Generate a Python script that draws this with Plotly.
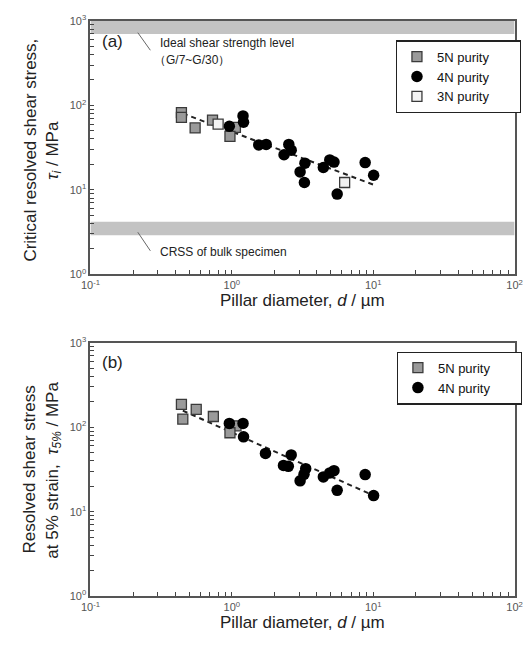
import plotly.graph_objects as go

# ---------------- data ----------------
# Panel (a): critical resolved shear stress
a_5n_d = [0.44, 0.44, 0.55, 0.73, 1.06, 0.97]
a_5n_tau = [82, 72, 54, 67, 55, 43]
a_4n_d = [1.20, 1.21, 0.96, 1.55, 1.75, 2.53, 2.63, 2.34, 3.29, 3.04, 3.26,
          4.44, 4.93, 5.28, 5.56, 8.77, 10.07]
a_4n_tau = [75, 63, 56.5, 34, 34.5, 34.5, 29.5, 26, 20.7, 16.3, 12.2,
            18.4, 22.6, 21.3, 8.9, 21, 14.9]
a_3n_d = [0.80, 6.28]
a_3n_tau = [60, 12.2]
a_fit_d = [0.45, 10.2]
a_fit_tau = [80, 11.4]
ideal_band = [700, 1000]
bulk_band = [2.9, 4.2]

# Panel (b): resolved shear stress at 5% strain
b_5n_d = [0.44, 0.45, 0.56, 0.74, 1.07, 0.97]
b_5n_tau = [186, 125, 163, 134, 104, 86]
b_4n_d = [0.96, 1.20, 1.21, 1.73, 2.63, 2.32, 2.51, 3.33, 3.24, 3.04,
          4.44, 4.93, 5.28, 5.56, 8.77, 10.07]
b_4n_tau = [111, 111, 77, 49, 47, 35.3, 34.4, 32.3, 27.7, 23.2,
            25.8, 28.8, 30.6, 17.9, 27.5, 15.5]
b_fit_d = [0.45, 10.2]
b_fit_tau = [157, 15.4]

x_range = [0.1, 100]
x_decade_vals = [0.1, 1, 10, 100]
x_decade_labels = ["10<sup>-1</sup>", "10<sup>0</sup>", "10<sup>1</sup>", "10<sup>2</sup>"]
y_decade_vals = [1, 10, 100, 1000]
y_decade_labels = ["10<sup>0</sup>", "10<sup>1</sup>", "10<sup>2</sup>", "10<sup>3</sup>"]

W, H = 531, 646
OFF = 8  # page body margin of the browser
FONT = "Arial, Liberation Sans, sans-serif"
PAD = "\u00a0" * 7


def px(x):
    return (x - OFF) / W


def py(y):
    return 1 - (y - OFF) / H


def minor_vals(decade_vals):
    out = []
    for d in decade_vals[:-1]:
        out.extend(m * d for m in range(2, 10))
    return out


x_minor = minor_vals(x_decade_vals)
y_minor = minor_vals(y_decade_vals)

sq5 = dict(symbol="square", size=10, color="#9a9a9a", line=dict(color="#3a3a3a", width=1.3))
sq3 = dict(symbol="square", size=10, color="#f2f2f2", line=dict(color="#3a3a3a", width=1.3))
circ = dict(symbol="circle", size=11.5, color="black", line=dict(color="black", width=0))
DASH = dict(color="#222", width=2, dash="5px,4px")

fig = go.Figure()

# bands in panel (a)
for band in (ideal_band, bulk_band):
    fig.add_trace(go.Scatter(
        x=[x_range[0], x_range[1], x_range[1], x_range[0], x_range[0]],
        y=[band[0], band[0], band[1], band[1], band[0]],
        fill="toself", fillcolor="#c3c3c3", mode="none",
        showlegend=False, hoverinfo="skip", xaxis="x", yaxis="y"))

fig.add_trace(go.Scatter(x=a_fit_d, y=a_fit_tau, mode="lines", line=DASH,
                         showlegend=False, xaxis="x", yaxis="y"))
fig.add_trace(go.Scatter(x=a_5n_d, y=a_5n_tau, mode="markers", marker=sq5,
                         name="5N purity" + PAD, legend="legend", xaxis="x", yaxis="y"))
fig.add_trace(go.Scatter(x=a_4n_d, y=a_4n_tau, mode="markers", marker=circ,
                         name="4N purity" + PAD, legend="legend", xaxis="x", yaxis="y"))
fig.add_trace(go.Scatter(x=a_3n_d, y=a_3n_tau, mode="markers", marker=sq3,
                         name="3N purity" + PAD, legend="legend", xaxis="x", yaxis="y"))

fig.add_trace(go.Scatter(x=b_fit_d, y=b_fit_tau, mode="lines", line=DASH,
                         showlegend=False, xaxis="x2", yaxis="y2"))
fig.add_trace(go.Scatter(x=b_5n_d, y=b_5n_tau, mode="markers", marker=sq5,
                         name="5N purity" + PAD, legend="legend2", xaxis="x2", yaxis="y2"))
fig.add_trace(go.Scatter(x=b_4n_d, y=b_4n_tau, mode="markers", marker=circ,
                         name="4N purity" + PAD, legend="legend2", xaxis="x2", yaxis="y2"))

axis_common = dict(type="log", showgrid=False, zeroline=False,
                   showline=True, linecolor="#555", linewidth=2, mirror=True,
                   ticks="inside", ticklen=4, tickwidth=1, tickcolor="#444",
                   tickfont=dict(family=FONT, size=11, color="#555"))


def xaxis_cfg(anchor):
    return dict(domain=[px(83), px(522)], range=[-1, 2], anchor=anchor,
                tickmode="array", tickvals=x_decade_vals, ticktext=x_decade_labels,
                minor=dict(tickmode="array", tickvals=x_minor, ticks="inside",
                           ticklen=4, tickwidth=1, tickcolor="#444", showgrid=False),
                **axis_common)


def yaxis_cfg(anchor, top, bottom):
    return dict(domain=[py(bottom), py(top)], range=[0, 3], anchor=anchor,
                tickmode="array", tickvals=y_decade_vals, ticktext=y_decade_labels,
                minor=dict(tickmode="array", tickvals=y_minor, ticks="inside",
                           ticklen=4, tickwidth=1, tickcolor="#444", showgrid=False),
                **axis_common)


legend_common = dict(xanchor="left", yanchor="top",
                     bordercolor="#222", borderwidth=1.2, bgcolor="white",
                     font=dict(family=FONT, size=13, color="#111"),
                     itemwidth=30, tracegroupgap=0)
fig.update_layout(
    width=W, height=H, margin=dict(l=0, r=0, t=0, b=0),
    paper_bgcolor="white", plot_bgcolor="white",
    font=dict(family=FONT, color="#222"),
    xaxis=xaxis_cfg("y"),
    yaxis=yaxis_cfg("x", 13, 272),
    xaxis2=xaxis_cfg("y2"),
    yaxis2=yaxis_cfg("x2", 342, 601),
    legend=dict(x=px(399), y=py(33), **legend_common),
    legend2=dict(x=px(400), y=py(351), **legend_common),
    showlegend=True,
)

# leader lines for band annotations
for (x0, y0, x1, y1) in [(132, 25, 145, 43), (132, 229, 145, 248)]:
    fig.add_shape(type="line", xref="paper", yref="paper",
                  x0=px(x0), y0=py(y0), x1=px(x1), y1=py(y1),
                  line=dict(color="#666", width=1))

anns = [
    dict(text="Ideal shear strength level", x=px(153), y=py(36), size=12, xanchor="left"),
    dict(text="（G/7~G/30）", x=px(147), y=py(53), size=12, xanchor="left"),
    dict(text="CRSS of bulk specimen", x=px(153), y=py(249), size=12, xanchor="left"),
    dict(text="(a)", x=px(93), y=py(34), size=17, xanchor="left"),
    dict(text="(b)", x=px(93), y=py(362), size=17, xanchor="left"),
    dict(text="Pillar diameter, <i>d</i> / µm", x=px(302), y=py(299), size=17, xanchor="center"),
    dict(text="Pillar diameter, <i>d</i> / µm", x=px(302), y=py(628), size=17, xanchor="center"),
]
for a in anns:
    fig.add_annotation(text=a["text"], x=a["x"], y=a["y"], xref="paper", yref="paper",
                       xanchor=a["xanchor"], yanchor="middle", showarrow=False,
                       font=dict(family=FONT, size=a["size"], color="#222"))

ytitles = [
    ("Critical resolved shear stress,", 20, 145),
    ("<i>τ<sub>i</sub></i> / MPa", 45, 145),
    ("Resolved shear stress", 20, 472),
    ("at 5% strain,  <i>τ<sub>5%</sub></i> / MPa", 45, 472),
]
for t, x, y in ytitles:
    fig.add_annotation(text=t, x=px(x), y=py(y), xref="paper", yref="paper",
                       xanchor="center", yanchor="middle", textangle=-90, showarrow=False,
                       font=dict(family=FONT, size=17, color="#222"))

fig.write_html("out.html")
